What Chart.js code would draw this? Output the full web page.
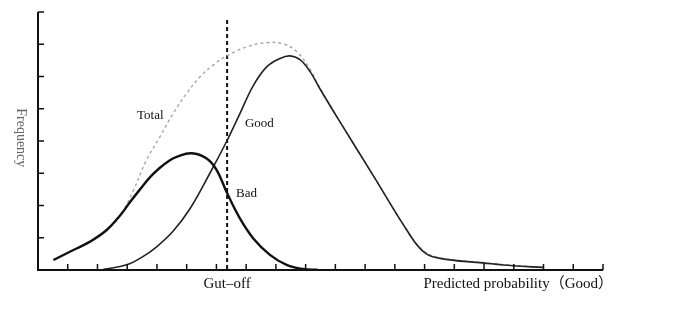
<!DOCTYPE html>
<html>
<head>
<meta charset="utf-8">
<script src="https://cdn.jsdelivr.net/npm/chart.js@4/dist/chart.umd.min.js"></script>
<style>
  html, body { margin: 0; padding: 0; background: #fff; }
  #wrap { width: 685px; height: 322px; }
</style>
</head>
<body>
<div id="wrap"><canvas id="myChart"></canvas></div>
<script>
// curve values (x in tick units, y in tick units)
const badX = [0.52, 1.19, 1.75, 2.31, 2.76, 3.09, 3.43, 3.77, 4.1, 4.4, 4.66, 5.17, 5.67, 6.01, 6.35, 6.79, 7.24, 7.8, 8.36, 8.92, 9.4];
const badY = [0.31, 0.62, 0.88, 1.24, 1.69, 2.1, 2.5, 2.88, 3.17, 3.38, 3.51, 3.62, 3.46, 3.1, 2.4, 1.6, 0.98, 0.47, 0.16, 0.03, 0.01];

const goodX = [2.2, 2.98, 3.5, 3.99, 4.54, 5.11, 5.78, 6.35, 6.79, 7.24, 7.69, 8.14, 8.47, 8.81, 9.15, 9.48, 10.15, 11.28, 12.4, 12.96, 13.52, 14.96, 15.97, 16.98];
const goodY = [0.02, 0.16, 0.4, 0.72, 1.2, 1.9, 3.0, 4.0, 4.85, 5.72, 6.3, 6.56, 6.64, 6.52, 6.15, 5.62, 4.6, 2.92, 1.24, 0.57, 0.36, 0.22, 0.13, 0.08];

const totalX = [0.52, 1.19, 1.75, 2.31, 2.76, 3.2, 3.65, 4.1, 4.55, 5.0, 5.45, 5.9, 6.35, 7.02, 7.69, 8.25, 8.7, 9.15, 9.48, 10.15, 11.28, 12.4, 12.96, 13.52, 14.96, 15.97, 16.98];
const totalY = [0.31, 0.62, 0.88, 1.24, 1.69, 2.45, 3.41, 4.13, 4.86, 5.48, 5.99, 6.36, 6.64, 6.92, 7.05, 7.01, 6.77, 6.22, 5.64, 4.6, 2.92, 1.24, 0.6, 0.38, 0.23, 0.14, 0.08];

const cutOff = 6.36;
const xTickCount = 19;
const yTickCount = 8;

const zip = (xs, ys) => xs.map((x, i) => ({ x: x, y: ys[i] }));
const serif = '"Liberation Serif", "DejaVu Serif", "Noto Sans CJK SC", serif';

// axes with inward ticks, cut-off line and the text labels
const decorations = {
  id: 'decorations',
  beforeDatasetsDraw(chart) {
    const ctx = chart.ctx;
    const xs = chart.scales.x, ys = chart.scales.y;
    ctx.save();
    ctx.strokeStyle = '#111';
    ctx.setLineDash([4, 3]);
    ctx.lineWidth = 2;
    ctx.beginPath();
    ctx.moveTo(xs.getPixelForValue(cutOff), ys.getPixelForValue(7.75));
    ctx.lineTo(xs.getPixelForValue(cutOff), ys.getPixelForValue(0));
    ctx.stroke();
    ctx.restore();
  },
  afterDatasetsDraw(chart) {
    const ctx = chart.ctx;
    const xs = chart.scales.x, ys = chart.scales.y;
    const x0 = xs.getPixelForValue(0), y0 = ys.getPixelForValue(0);
    ctx.save();
    ctx.strokeStyle = '#111';
    ctx.lineWidth = 2;
    ctx.beginPath();
    ctx.moveTo(x0, ys.getPixelForValue(yTickCount));
    ctx.lineTo(x0, y0);
    ctx.lineTo(xs.getPixelForValue(xTickCount), y0);
    ctx.stroke();
    ctx.lineWidth = 1.5;
    ctx.beginPath();
    for (let i = 1; i <= yTickCount; i++) {
      const py = ys.getPixelForValue(i);
      ctx.moveTo(x0, py);
      ctx.lineTo(x0 + 6, py);
    }
    for (let i = 1; i <= xTickCount; i++) {
      const px = xs.getPixelForValue(i);
      ctx.moveTo(px, y0);
      ctx.lineTo(px, y0 - 6);
    }
    ctx.stroke();

    ctx.fillStyle = '#111';
    ctx.font = '13px ' + serif;
    ctx.textBaseline = 'middle';
    ctx.textAlign = 'left';
    ctx.fillText('Total', xs.getPixelForValue(3.33), ys.getPixelForValue(4.8));
    ctx.fillText('Good', xs.getPixelForValue(6.96), ys.getPixelForValue(4.53));
    ctx.fillText('Bad', xs.getPixelForValue(6.66), ys.getPixelForValue(2.36));
    ctx.font = '15px ' + serif;
    ctx.textAlign = 'center';
    ctx.fillText('Gut\u2013off', xs.getPixelForValue(cutOff), y0 + 14);
    ctx.textAlign = 'right';
    ctx.fillText('Predicted probability\uFF08Good\uFF09', xs.getPixelForValue(xTickCount) + 10, y0 + 14);

    ctx.fillStyle = '#666';
    ctx.font = '14px ' + serif;
    ctx.translate(21, ys.getPixelForValue(4.1));
    ctx.rotate(Math.PI / 2);
    ctx.textAlign = 'center';
    ctx.fillText('Frequency', 0, 0);
    ctx.restore();
  }
};

const ctx = document.getElementById('myChart').getContext('2d');
const myChart = new Chart(ctx, {
  type: 'line',
  data: {
    datasets: [
      {
        label: 'Total',
        data: zip(totalX, totalY),
        borderColor: '#aaa',
        borderWidth: 1.5,
        borderDash: [3, 3],
        pointRadius: 0,
        tension: 0.4,
        order: 3
      },
      {
        label: 'Good',
        data: zip(goodX, goodY),
        borderColor: '#222',
        borderWidth: 1.6,
        pointRadius: 0,
        tension: 0.4,
        order: 2
      },
      {
        label: 'Bad',
        data: zip(badX, badY),
        borderColor: '#111',
        borderWidth: 2.4,
        pointRadius: 0,
        tension: 0.4,
        order: 1
      }
    ]
  },
  options: {
    responsive: true,
    maintainAspectRatio: false,
    animation: false,
    layout: { padding: { left: 38, right: 82, top: 12, bottom: 52 } },
    plugins: {
      legend: { display: false },
      tooltip: { enabled: false }
    },
    scales: {
      x: { type: 'linear', min: 0, max: xTickCount, display: false },
      y: { min: 0, max: yTickCount, display: false }
    }
  },
  plugins: [decorations]
});
</script>
</body>
</html>
